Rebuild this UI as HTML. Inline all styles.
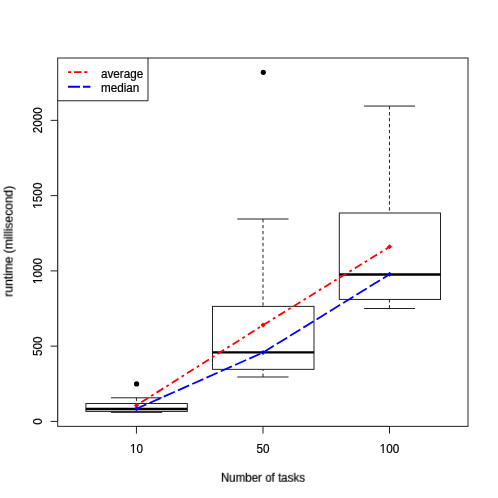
<!DOCTYPE html>
<html>
<head>
<meta charset="utf-8">
<title>Boxplot</title>
<style>
html,body{margin:0;padding:0;background:#fff;}
body{width:498px;height:498px;overflow:hidden;}
svg{display:block;will-change:transform;}
text{font-family:"Liberation Sans",sans-serif;font-size:12.4px;fill:#000;stroke:#000;stroke-width:0.22px;}
</style>
</head>
<body>
<svg width="498" height="498" viewBox="0 0 498 498">
<defs><filter id="soft" x="0" y="0" width="498" height="498" filterUnits="userSpaceOnUse"><feGaussianBlur stdDeviation="0.32"/></filter></defs>
<rect width="498" height="498" fill="#fff"/>
<g filter="url(#soft)">

<!-- boxes -->
<g fill="none" stroke="#222" stroke-width="1">
  <!-- box 1 -->
  <rect x="85.9" y="403.5" width="101.4" height="7.95"/>
  <line x1="110.95" y1="397.8" x2="162.2" y2="397.8"/>
  <line x1="110.95" y1="412.4" x2="162.2" y2="412.4"/>
  <line x1="136.45" y1="397.7" x2="136.45" y2="403.5" stroke-dasharray="3.4 2.55"/>
  <!-- box 2 -->
  <rect x="212.5" y="306.4" width="101.5" height="62.95"/>
  <line x1="237.3" y1="219" x2="288.5" y2="219"/>
  <line x1="237.3" y1="377" x2="288.5" y2="377"/>
  <line x1="263" y1="219" x2="263" y2="306.4" stroke-dasharray="3.4 2.55"/>
  <line x1="263" y1="377" x2="263" y2="369.4" stroke-dasharray="3.4 2.55"/>
  <!-- box 3 -->
  <rect x="339.3" y="213" width="101.2" height="86.45"/>
  <line x1="364.1" y1="106.05" x2="415.1" y2="106.05"/>
  <line x1="364.1" y1="308.5" x2="415.1" y2="308.5"/>
  <line x1="389.45" y1="106.05" x2="389.45" y2="213" stroke-dasharray="3.4 2.55"/>
  <line x1="389.45" y1="308.5" x2="389.45" y2="299.5" stroke-dasharray="3.4 2.55"/>
</g>
<!-- medians -->
<g stroke="#000" stroke-width="2.4">
  <line x1="85.9" y1="409.05" x2="187.3" y2="409.05"/>
  <line x1="212.5" y1="352.4" x2="314" y2="352.4"/>
  <line x1="339.3" y1="274.5" x2="440.5" y2="274.5"/>
</g>
<!-- outliers -->
<circle cx="136.6" cy="383.9" r="2.6" fill="#000"/>
<circle cx="263.3" cy="72.3" r="2.6" fill="#000"/>

<!-- frame & axes -->
<g fill="none" stroke="#222" stroke-width="1">
  <rect x="57.7" y="58" width="410.3" height="368.35"/>
  <line x1="57.7" y1="120.35" x2="57.7" y2="421.42" stroke-width="0.5"/>
  <line x1="136.45" y1="426.35" x2="389.5" y2="426.35" stroke-width="0.5"/>
  <line x1="50.6" y1="421.42" x2="57.7" y2="421.42"/>
  <line x1="50.6" y1="346.15" x2="57.7" y2="346.15"/>
  <line x1="50.6" y1="270.89" x2="57.7" y2="270.89"/>
  <line x1="50.6" y1="195.62" x2="57.7" y2="195.62"/>
  <line x1="50.6" y1="120.35" x2="57.7" y2="120.35"/>
  <line x1="136.45" y1="426.35" x2="136.45" y2="433.6"/>
  <line x1="263" y1="426.35" x2="263" y2="433.6"/>
  <line x1="389.5" y1="426.35" x2="389.5" y2="433.6"/>
</g>

<!-- avg / median lines -->
<polyline points="136.45,405.4 263.05,325.1 389.6,246.8" fill="none" stroke="#ff0000" stroke-width="1.8" stroke-dasharray="2.8 3.63 7.95 3.63" stroke-dashoffset="0.6"/>
<polyline points="136.45,408.8 263.05,352.5 389.6,274.3" fill="none" stroke="#0000ff" stroke-width="1.8" stroke-dasharray="12.1 3.5" stroke-dashoffset="1.3"/>
<g fill="#ff0000">
  <path d="M136.45,402.85 L139.00,405.4 L136.45,407.95 L133.90,405.4 Z"/><path d="M263.05,322.55 L265.60,325.1 L263.05,327.65 L260.50,325.1 Z"/><path d="M389.6,244.25 L392.15,246.8 L389.6,249.35 L387.05,246.8 Z"/>
</g>
<g fill="#0000ff">
  <path d="M136.45,406.25 L139.00,408.8 L136.45,411.35 L133.90,408.8 Z"/><path d="M263.05,349.95 L265.60,352.5 L263.05,355.05 L260.50,352.5 Z"/><path d="M389.6,271.75 L392.15,274.3 L389.6,276.85 L387.05,274.3 Z"/>
</g>

<!-- legend -->
<path d="M57.7,100.75 H148 V58" fill="none" stroke="#222" stroke-width="1"/>
<line x1="68" y1="72.05" x2="87.5" y2="72.05" stroke="#ff0000" stroke-width="1.8" stroke-dasharray="3.2 2.8 7.6 2.6"/>
<line x1="68" y1="86.75" x2="90.4" y2="86.75" stroke="#0000ff" stroke-width="1.8" stroke-dasharray="12 3"/>
<text transform="translate(101,78.2) scale(0.9435,1)">average</text>
<text transform="translate(101,92.0) scale(0.9435,1)">median</text>

<!-- tick labels -->
<text transform="translate(136.45,452.6) scale(0.9435,1)" text-anchor="middle">10</text>
<g transform="translate(136.45,452.6) scale(0.9435,1)" fill="#fff" stroke="none"><rect x="-7.496" y="-1.15" width="3.600" height="1.7"/><rect x="-2.576" y="-1.15" width="2.780" height="1.7"/></g>
<text transform="translate(263,452.6) scale(0.9435,1)" text-anchor="middle">50</text>
<text transform="translate(389.5,452.6) scale(0.9435,1)" text-anchor="middle">100</text>
<g transform="translate(389.5,452.6) scale(0.9435,1)" fill="#fff" stroke="none"><rect x="-10.944" y="-1.15" width="3.600" height="1.7"/><rect x="-6.024" y="-1.15" width="2.780" height="1.7"/></g>
<text transform="translate(42.1,421.42) rotate(-90) scale(0.9435,1)" text-anchor="middle">0</text>
<text transform="translate(42.1,346.15) rotate(-90) scale(0.9435,1)" text-anchor="middle">500</text>
<text transform="translate(42.1,270.89) rotate(-90) scale(0.9435,1)" text-anchor="middle">1000</text>
<g transform="translate(42.1,270.89) rotate(-90) scale(0.9435,1)" fill="#fff" stroke="none"><rect x="-14.393" y="-1.15" width="3.600" height="1.7"/><rect x="-9.473" y="-1.15" width="2.780" height="1.7"/></g>
<text transform="translate(42.1,195.62) rotate(-90) scale(0.9435,1)" text-anchor="middle">1500</text>
<g transform="translate(42.1,195.62) rotate(-90) scale(0.9435,1)" fill="#fff" stroke="none"><rect x="-14.393" y="-1.15" width="3.600" height="1.7"/><rect x="-9.473" y="-1.15" width="2.780" height="1.7"/></g>
<text transform="translate(42.1,120.35) rotate(-90) scale(0.9435,1)" text-anchor="middle">2000</text>

<!-- axis labels -->
<text transform="translate(262.9,481.8) scale(0.932,1)" text-anchor="middle">Number of tasks</text>
<text transform="translate(12.6,241.2) rotate(-90) scale(0.970,1)" text-anchor="middle">runtime (millisecond)</text>
</g>
</svg>
</body>
</html>
